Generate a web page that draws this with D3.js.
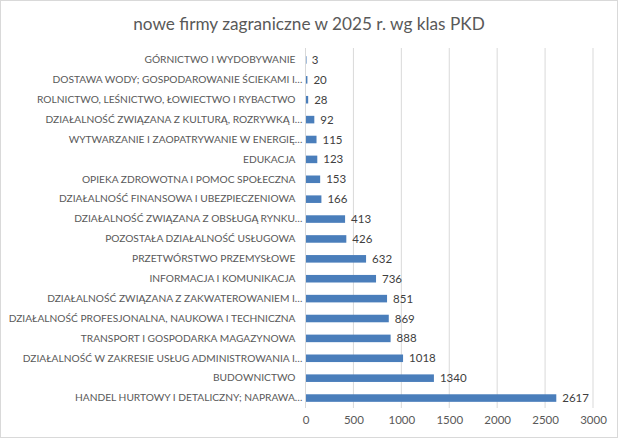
<!DOCTYPE html>
<html><head><meta charset="utf-8">
<script src="https://cdn.jsdelivr.net/npm/d3@7"></script>
<style>
html,body{margin:0;padding:0;background:#fff;}
svg{display:block;font-family:Lato,"Open Sans",sans-serif;}
</style></head>
<body>
<svg id="chart" width="619" height="439"></svg>
<script>
const title = "nowe firmy zagraniczne w 2025 r. wg klas PKD";
const categories = [
  "GÓRNICTWO I WYDOBYWANIE",
  "DOSTAWA WODY; GOSPODAROWANIE ŚCIEKAMI I…",
  "ROLNICTWO, LEŚNICTWO, ŁOWIECTWO I RYBACTWO",
  "DZIAŁALNOŚĆ ZWIĄZANA Z KULTURĄ, ROZRYWKĄ I…",
  "WYTWARZANIE I ZAOPATRYWANIE W ENERGIĘ…",
  "EDUKACJA",
  "OPIEKA ZDROWOTNA I POMOC SPOŁECZNA",
  "DZIAŁALNOŚĆ FINANSOWA I UBEZPIECZENIOWA",
  "DZIAŁALNOŚĆ ZWIĄZANA Z OBSŁUGĄ RYNKU…",
  "POZOSTAŁA DZIAŁALNOŚĆ USŁUGOWA",
  "PRZETWÓRSTWO PRZEMYSŁOWE",
  "INFORMACJA I KOMUNIKACJA",
  "DZIAŁALNOŚĆ ZWIĄZANA Z ZAKWATEROWANIEM I…",
  "DZIAŁALNOŚĆ PROFESJONALNA, NAUKOWA I TECHNICZNA",
  "TRANSPORT I GOSPODARKA MAGAZYNOWA",
  "DZIAŁALNOŚĆ W ZAKRESIE USŁUG ADMINISTROWANIA I…",
  "BUDOWNICTWO",
  "HANDEL HURTOWY I DETALICZNY; NAPRAWA…"
];
const values = [3, 20, 28, 92, 115, 123, 153, 166, 413, 426, 632, 736, 851, 869, 888, 1018, 1340, 2617];
const xTicks = [0, 500, 1000, 1500, 2000, 2500, 3000];

const svg = d3.select("#chart");
const W = 619, H = 439;
const m = {left: 305.5, right: 26, top: 50, bottom: 31};

svg.append("rect").attr("x", 0.5).attr("y", 0.5).attr("width", W - 2).attr("height", H - 2)
  .attr("fill", "#fff").attr("stroke", "#d9d9d9");

svg.append("text").attr("x", 309).attr("y", 30).attr("text-anchor", "middle")
  .attr("font-size", 17.2).attr("fill", "#595959").text(title);

const x = d3.scaleLinear().domain([0, 3000]).range([m.left, W - m.right]);
const y = d3.scaleBand().domain(categories).range([m.top, H - m.bottom]).paddingInner(0.62).paddingOuter(0.31);

// gridlines
const grid = svg.append("g");
grid.selectAll("line").data(xTicks.slice(1)).join("line")
  .attr("x1", d => x(d)).attr("x2", d => x(d))
  .attr("y1", m.top - 2).attr("y2", H - m.bottom)
  .attr("stroke", "#d9d9d9").attr("stroke-width", 1);

// x axis labels
const xAxis = d3.axisBottom(x).tickValues(xTicks).tickFormat(d3.format("d")).tickSize(0).tickPadding(8);
const gx = svg.append("g").attr("transform", `translate(0,${H - m.bottom})`).call(xAxis);
gx.select(".domain").remove();
gx.selectAll("text").attr("font-family", "Lato, sans-serif").attr("font-size", 11.5).attr("fill", "#595959");

// bars
svg.append("g").selectAll("rect").data(values).join("rect")
  .attr("x", x(0)).attr("y", (d, i) => y(categories[i]))
  .attr("width", d => Math.max(1, x(d) - x(0))).attr("height", y.bandwidth())
  .attr("fill", "#4a7ebb");

// y axis
const yAxis = d3.axisLeft(y).tickSize(0).tickPadding(10);
const gy = svg.append("g").attr("transform", `translate(${m.left},0)`).call(yAxis);
gy.select(".domain").attr("stroke", "#d9d9d9");
gy.select(".domain").attr("d", `M0,${m.top - 2}V${H - m.bottom}`);
gy.selectAll("text").attr("font-family", "Lato, sans-serif").attr("font-size", 10.2).attr("fill", "#595959")
  .attr("x", d => d.endsWith("…") ? -3 : -10);

// value labels
svg.append("g").selectAll("text").data(values).join("text")
  .attr("x", d => x(d) + 6).attr("y", (d, i) => y(categories[i]) + y.bandwidth() / 2)
  .attr("dy", "0.35em").attr("font-size", 11.5).attr("fill", "#404040")
  .text(d => d);
</script>
</body></html>
